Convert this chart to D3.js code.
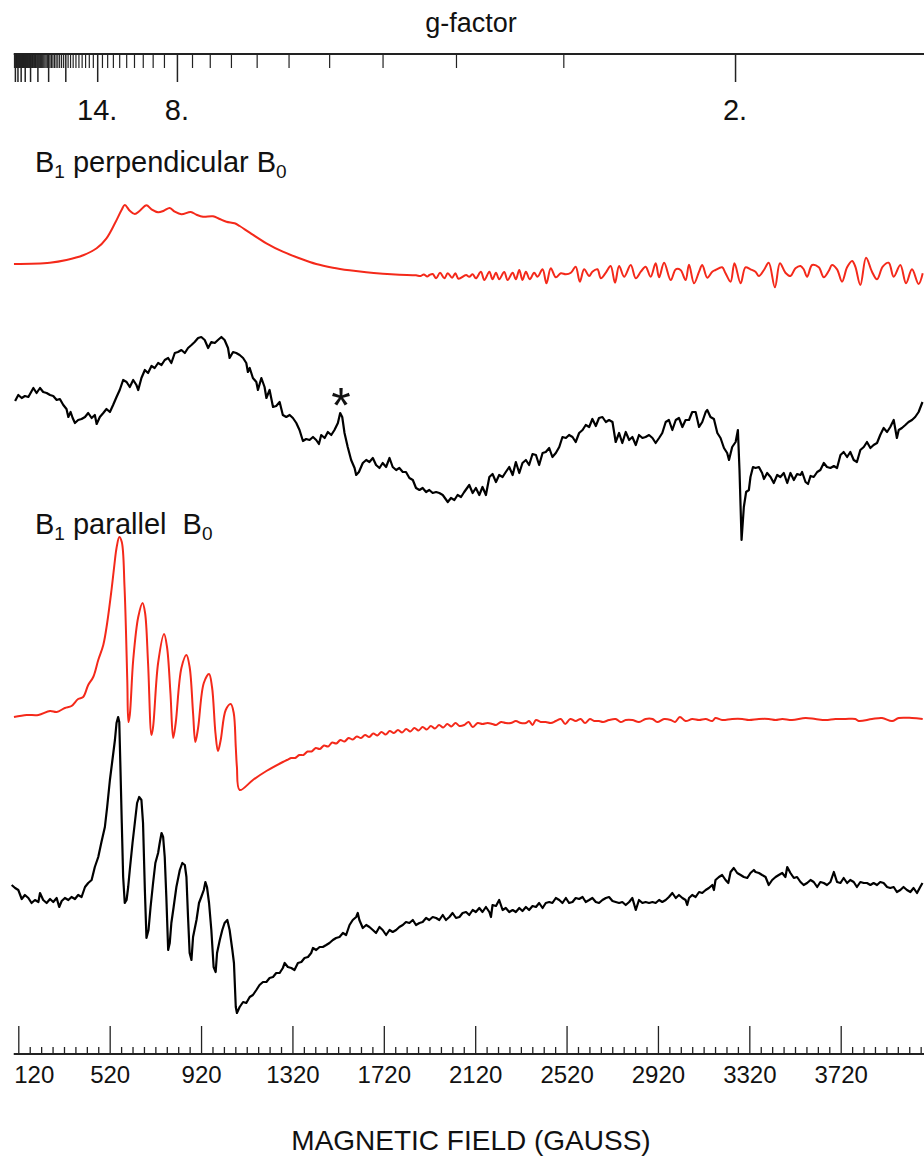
<!DOCTYPE html>
<html><head><meta charset="utf-8">
<script src="https://cdn.jsdelivr.net/npm/d3@7"></script>
<style>
body{margin:0;background:#fff;}
svg{display:block;font-family:"Liberation Sans",Arial,Helvetica,sans-serif;}
</style></head><body>
<svg id="chart" width="924" height="1159"></svg>
<script>
// ---- DATA (field in gauss, intensity in arbitrary units relative to each trace baseline) ----
const perpSim = [[101,0],[258,1.3],[331,4],[404,8.7],[463,15.7],[506,25.7],[543,40.7],[572,54],[586,59],[608,53.3],[630,50],[652,53.3],[681,58.7],[703,54.7],[732,51.7],[757,53.3],[783,56],[805,52.3],[834,49.7],[875,52],[900,49.3],[929,47.3],[972,47.7],[1001,45],[1031,42.3],[1067,40.7],[1089,38],[1133,31.3],[1206,20.7],[1278,12.3],[1351,5.7],[1424,0],[1497,-3.7],[1570,-6.3],[1643,-8.3],[1716,-9.7],[1788,-10.7],[1861,-11.3],[1880,-12],[1895,-10.5],[1910,-12.5],[1920,-11],[1934,-10],[1949,-14.3],[1966,-8.7],[1985,-14.3],[2000,-9.3],[2019,-13.7],[2033,-9.3],[2047,-14.7],
[2080,-11],[2094,-12.7],[2109,-10.3],[2123,-14.3],[2145,-7.7],[2160,-16],[2182,-7.7],[2196,-15.3],[2211,-8.7],[2225,-15.3],[2247,-8],[2262,-16],[2284,-8.7],[2298,-15.3],[2313,-6],[2327,-16],[2342,-7.7],[2359,-15.3],[2378,-8.7],[2393,-12.7],[2415,-5.3],[2432,-19.3],[2451,-4.3],[2473,-13.3],[2495,-9.3],[2517,-10.3],[2539,-8.7],[2560,-2.7],[2578,-17.7],[2597,-5.3],[2619,-12],[2633,-7.7],[2655,-5.3],[2670,-14.3],[2692,-8.7],[2713,-2],[2732,-18.7],[2750,-2],[2772,-12.7],[2801,-1],[2823,-14.3],[2845,-7.7],[2866,-2.7],[2888,-12.7],[2910,0.7],[2925,-13.3],[2947,1.3],[2976,-16],[2998,-5.3],[3019,-6],[3041,-16],[3056,-0.7],[3078,-19.3],[3100,-7.7],[3114,-1],[3136,-13.7],[3158,-7.7],[3172,-6],[3201,-3.3],[3216,-9.3],[3238,-17.7],[3255,0.7],[3282,-19.3],[3303,-3.3],[3325,-5.3],[3347,-7.7],[3362,-12],[3384,-6],[3405,1.3],[3432,-23.3],[3454,0.7],[3478,-8.7],[3500,-12],[3522,-4.3],[3544,-2],[3558,-5.3],[3573,-12.7],[3595,-1],[3624,-3.3],[3646,-13.3],[3668,-6.7],[3682,-1],[3704,-5.3],[3726,-17.7],[3748,-3.3],[3770,3],[3784,-2.7],[3806,-21],[3831,6.3],[3857,-7.7],[3879,-15.3],[3904,-2.7],[3930,1.3],[3952,-12.7],[3981,-1],[4006,-19.3],[4032,-5.3],[4061,-20],[4079,-9.3]];

const perpExp = [[106,-1],[120,5],[135,2],[149,4],[164,3],[186,12],[200,7],[215,12],[229,8],[244,7],[259,5],[273,4],[288,0],[302,1],[317,-5],[331,-9],[339,-17],[349,-12],[358,-18],[368,-23],[382,-20],[397,-19],[412,-17],[426,-13],[441,-18],[455,-15],[463,-24],[477,-17],[492,-13],[506,-9],[521,-12],[535,-5],[550,3],[564,10],[579,20],[594,18],[608,13],[623,20],[637,15],[645,10],[659,22],[674,30],[688,27],[703,34],[717,32],[732,37],[747,35],[761,40],[776,42],[790,37],[805,47],[819,48],[834,50],[849,47],[863,52],[878,55],[892,58],[907,62],[921,63],[936,60],[951,52],[965,58],[980,57],[994,60],[1009,63],[1023,60],[1038,52],[1045,42],[1060,48],[1074,47],[1089,45],[1104,42],[1118,37],[1125,28],[1133,32],[1147,22],[1162,18],[1169,10],[1184,22],[1198,13],[1206,2],[1220,10],[1235,-7],[1249,-6],[1264,-2],[1278,-15],[1293,-17],[1308,-15],[1322,-18],[1337,-23],[1351,-30],[1366,-41],[1380,-39],[1395,-40],[1410,-37],[1424,-40],[1436,-44],[1446,-35],[1461,-38],[1475,-32],[1490,-35],[1504,-30],[1519,-23],[1529,-13],[1538,-17],[1548,-33],[1562,-47],[1577,-60],[1592,-68],[1599,-75],[1611,-72],[1628,-63],[1643,-60],[1657,-62],[1672,-58],[1686,-65],[1701,-68],[1715,-63],[1730,-67],[1745,-58],[1759,-67],[1774,-70],[1788,-68],[1803,-72],[1817,-72],[1832,-78],[1847,-80],[1861,-88],[1876,-90],[1890,-88],[1905,-92],[1919,-90],[1934,-93],[1949,-92],[1963,-93],[1978,-95],[2000,-102],[2014,-98],[2029,-100],[2043,-95],[2058,-97],[2072,-92],
[2094,-85],[2109,-93],[2123,-88],[2138,-95],[2152,-87],[2167,-95],[2182,-77],[2196,-74],[2211,-82],[2225,-75],[2240,-77],[2254,-72],[2269,-67],[2284,-75],[2298,-62],[2313,-73],[2327,-63],[2342,-60],[2356,-65],[2371,-54],[2386,-55],[2400,-65],[2415,-53],[2429,-52],[2444,-48],[2458,-57],[2473,-53],[2488,-47],[2502,-37],[2517,-38],[2531,-35],[2546,-37],[2560,-42],[2575,-33],[2590,-30],[2604,-25],[2619,-27],[2633,-19],[2648,-26],[2662,-18],[2677,-17],[2692,-22],[2706,-20],[2721,-22],[2735,-42],[2750,-33],[2764,-43],[2779,-32],[2794,-40],[2808,-37],[2823,-45],[2837,-35],[2852,-38],[2866,-37],[2881,-35],[2896,-38],[2910,-43],[2925,-38],[2939,-33],[2954,-22],[2968,-20],[2983,-30],[2998,-20],[3012,-18],[3027,-27],[3041,-20],[3056,-20],[3070,-12],[3085,-12],[3100,-27],[3114,-22],[3129,-12],[3136,-10],[3150,-17],[3165,-19],[3180,-33],[3194,-38],[3209,-48],[3223,-53],[3231,-60],[3245,-47],[3260,-42],[3270,-30],[3277,-70],[3286,-140],[3296,-107],[3306,-92],[3318,-90],[3325,-77],[3336,-67],[3347,-68],[3362,-67],[3376,-73],[3384,-79],[3398,-73],[3413,-77],[3427,-83],[3442,-75],[3456,-77],[3471,-73],[3486,-83],[3500,-73],[3515,-80],[3529,-74],[3544,-75],[3551,-72],[3566,-82],[3577,-84],[3588,-76],[3602,-77],[3617,-72],[3631,-70],[3646,-63],[3660,-67],[3675,-68],[3690,-66],[3704,-68],[3719,-55],[3733,-52],[3748,-57],[3762,-52],[3777,-60],[3791,-62],[3806,-50],[3821,-47],[3835,-42],[3850,-48],[3864,-45],[3879,-43],[3893,-35],[3908,-28],[3923,-32],[3937,-27],[3952,-20],[3966,-38],[3974,-30],[3988,-28],[4003,-25],[4017,-22],[4032,-20],[4046,-17],[4061,-12],[4078,-2]];

const parSim = [[101,-1],[157,1],[208,1],[259,5],[288,4],[324,8],[353,10],[382,17],[404,19],[426,31],[448,39],[470,56],[492,71],[509,93],[528,126],[543,156],[550,168],[562,179],[573,174],[585,129],[597,36],[602,-6],[608,1],[623,56],[645,99],[664,113],[675,103],[688,53],[703,-19],[710,-11],[732,53],[758,82],[771,69],[786,23],[798,-22],[809,-7],[834,48],[856,61],[870,49],[885,3],[895,-26],[907,-12],[932,33],[955,42],[968,29],[983,-17],[994,-35],[1006,-24],[1028,6],[1050,12],[1063,3],[1072,-31],[1077,-51],[1089,-74],[1147,-64],[1206,-55],[1278,-46],[1296,-44],[1314,-42],[1332,-42],[1350,-39],[1368,-39],[1386,-35.5],[1404,-35.5],[1422,-32],[1440,-33],[1458,-29.5],[1476,-30.5],[1494,-26.5],[1512,-27.5],[1530,-24],[1548,-25.5],[1566,-22],[1584,-23.5],[1602,-20.5],[1620,-22],[1638,-19],[1656,-21],[1674,-17.5],[1692,-19.5],[1710,-16],[1728,-18.5],[1746,-15],[1764,-17],[1782,-14],[1800,-16.5],[1818,-13],[1836,-15.5],[1854,-12],[1872,-14.5],[1890,-11],[1908,-13.5],[1926,-10],[1944,-12.5],[1962,-9],[1980,-11.5],[1998,-8],[2016,-10.5],[2034,-7],
[2051,-10],[2072,-9],[2091,-6],[2109,-11],[2131,-7],[2152,-8],[2174,-7],[2196,-8],[2211,-9],[2233,-6],[2254,-7],[2276,-7],[2298,-5],[2320,-7],[2342,-7],[2356,-5],[2371,-9],[2386,-4],[2407,-6],[2429,-6],[2451,-7],[2473,-5],[2495,-3],[2514,-8],[2536,-3],[2560,-5],[2582,-3],[2601,-7],[2622,-3],[2641,-5],[2662,-5],[2680,-6],[2706,-4],[2735,-3],[2757,-6],[2779,-4],[2808,-4],[2837,-6],[2866,-3],[2896,-3],[2917,-6],[2947,-3],[2976,-4],[2995,-6],[3016,-1],[3041,-5],[3070,-3],[3100,-4],[3129,-3],[3158,-5],[3172,-2],[3201,-4],[3245,-3],[3289,-3],[3318,-4],[3362,-3],[3405,-3],[3435,-4],[3464,-3],[3507,-4],[3566,-2],[3609,-3],[3653,-4],[3697,-3],[3741,-3],[3784,-3],[3799,-5],[3857,-3],[3901,-2],[3945,-5],[3974,-2],[4032,-2],[4079,-3]];

const parExp = [[91,0],[106,-3],[120,-5],[135,-14],[149,-10],[164,-13],[178,-18],[193,-15],[208,-17],[215,-8],[229,-15],[244,-18],[259,-14],[273,-17],[288,-13],[299,-22],[310,-16],[324,-13],[339,-15],[353,-12],[368,-14],[382,-10],[397,-12],[412,-2],[426,2],[441,5],[455,18],[470,28],[484,43],[499,58],[509,78],[521,105],[532,125],[543,145],[550,162],[557,168],[562,163],[567,118],[573,62],[579,8],[586,-18],[594,-15],[601,-2],[608,15],[620,42],[630,62],[640,82],[649,88],[659,85],[666,62],[674,-5],[681,-53],[690,-45],[699,-22],[710,2],[720,22],[732,32],[739,42],[747,52],[754,48],[761,28],[768,-12],[776,-65],[783,-58],[790,-38],[800,-22],[812,-2],[827,15],[838,22],[849,20],[856,8],[863,-32],[870,-68],[878,-75],[885,-52],[900,-35],[911,-18],[921,-12],[932,-5],[939,3],[946,-2],[955,-18],[965,-45],[975,-82],[984,-87],[990,-68],[1002,-55],[1013,-45],[1023,-38],[1035,-35],[1045,-45],[1057,-65],[1064,-78],[1072,-122],[1077,-128],[1089,-122],[1104,-117],[1118,-118],[1133,-112],[1147,-110],[1162,-105],[1176,-100],[1191,-97],[1206,-97],[1220,-93],[1235,-92],[1249,-88],[1264,-88],[1278,-83],[1286,-78],[1300,-82],[1315,-83],[1329,-85],[1344,-78],[1359,-77],[1373,-73],[1388,-72],[1402,-68],[1410,-63],[1424,-65],[1439,-62],[1453,-62],[1468,-60],[1482,-58],[1497,-55],[1511,-53],[1526,-52],[1541,-48],[1555,-50],[1570,-40],[1584,-35],[1599,-32],[1606,-28],[1613,-35],[1628,-43],[1643,-40],[1657,-42],[1672,-45],[1686,-48],[1701,-42],[1715,-45],[1730,-50],[1745,-45],[1759,-47],[1774,-45],[1788,-42],[1803,-40],[1817,-37],[1832,-38],[1847,-35],[1861,-40],[1876,-38],[1890,-37],[1905,-33],[1919,-35],[1934,-32],[1949,-33],[1963,-35],[1978,-30],[1992,-35],[2007,-32],[2021,-28],[2036,-33],
[2051,-32],[2065,-28],[2080,-27],[2094,-30],[2109,-25],[2123,-27],[2138,-23],[2152,-27],[2167,-22],[2182,-27],[2189,-32],[2196,-20],[2211,-21],[2225,-15],[2240,-25],[2254,-23],[2269,-27],[2284,-25],[2298,-27],[2313,-23],[2327,-26],[2342,-22],[2356,-25],[2371,-21],[2386,-22],[2400,-18],[2415,-23],[2429,-18],[2444,-17],[2458,-18],[2473,-13],[2488,-15],[2502,-18],[2517,-13],[2531,-18],[2546,-17],[2560,-13],[2575,-14],[2590,-12],[2604,-17],[2619,-15],[2633,-13],[2648,-17],[2662,-18],[2677,-15],[2692,-13],[2706,-12],[2721,-16],[2735,-17],[2750,-18],[2764,-17],[2779,-20],[2794,-17],[2808,-13],[2823,-25],[2837,-15],[2852,-18],[2866,-17],[2881,-18],[2896,-17],[2910,-18],[2925,-15],[2939,-17],[2954,-15],[2968,-12],[2983,-8],[2998,-13],[3012,-10],[3027,-13],[3041,-15],[3048,-20],[3056,-13],[3070,-10],[3085,-12],[3100,-7],[3114,-8],[3129,-5],[3143,-3],[3158,0],[3165,-5],[3172,5],[3187,8],[3201,10],[3216,5],[3228,2],[3238,13],[3252,17],[3267,12],[3282,10],[3296,8],[3311,7],[3325,12],[3340,15],[3347,13],[3362,12],[3376,10],[3391,8],[3405,0],[3420,5],[3435,8],[3449,10],[3464,12],[3478,8],[3486,18],[3500,12],[3515,7],[3529,8],[3544,3],[3558,0],[3573,2],[3588,5],[3602,3],[3617,-2],[3631,3],[3646,2],[3660,0],[3675,3],[3690,13],[3704,3],[3719,2],[3733,7],[3748,2],[3762,5],[3777,3],[3791,-2],[3806,3],[3821,2],[3835,2],[3850,0],[3864,2],[3879,0],[3893,3],[3908,2],[3923,-2],[3937,-3],[3952,-2],[3966,-7],[3981,-5],[3995,-2],[4010,-5],[4025,-7],[4039,-3],[4054,-8],[4068,-2],[4078,2]];

const traceOffsets = [776, 640, 324, 155];          // stacking offsets, a.u.
const fieldTickLabels = [120, 520, 920, 1320, 1720, 2120, 2520, 2920, 3320, 3720];
const fieldSweep = [100, 4100];
const gTickLabels = [14, 8, 2];
const hNuOverBeta = 6515;                            // g = hNuOverBeta / B (gauss)
const asteriskField = 1533;

// ---- DRAWING ----
const svg = d3.select("#chart");
const W = 924, H = 1159;
svg.append("rect").attr("width", W).attr("height", H).attr("fill", "#fff");

const x = d3.scaleLinear().domain([120, 3720]).range([18.3, 840.7]);
const y = d3.scaleLinear().domain([0, 1000]).range([1040, 40]);

const RED = "#f4291a";
const traces = [
  {data: perpSim, off: traceOffsets[0], color: RED, curve: d3.curveCatmullRom.alpha(0.5), w: 2},
  {data: perpExp, off: traceOffsets[1], color: "#000", curve: d3.curveLinear, w: 2.2},
  {data: parSim, off: traceOffsets[2], color: RED, curve: d3.curveCatmullRom.alpha(0.5), w: 2},
  {data: parExp, off: traceOffsets[3], color: "#000", curve: d3.curveLinear, w: 2.2}
];
traces.forEach(t => {
  const line = d3.line().x(d => x(d[0])).y(d => y(t.off + d[1])).curve(t.curve);
  svg.append("path").datum(t.data).attr("d", line)
    .attr("fill", "none").attr("stroke", t.color).attr("stroke-width", t.w)
    .attr("stroke-linejoin", "round");
});

// bottom field axis
const axisY = 1054;
svg.append("line").attr("x1", x(fieldSweep[0])).attr("x2", x(fieldSweep[1]))
  .attr("y1", axisY).attr("y2", axisY).attr("stroke", "#222").attr("stroke-width", 2);
const minorField = d3.range(120, 4100, 50).filter(v => (v - 120) % 400 !== 0);
svg.append("g").attr("transform", `translate(0,${axisY})`)
  .call(d3.axisBottom(x).tickValues(minorField).tickSizeInner(-7).tickSizeOuter(0).tickFormat(""))
  .call(g => g.select(".domain").remove())
  .call(g => g.selectAll("line").attr("stroke", "#222").attr("stroke-width", 1.3));
const bottomAx = svg.append("g").attr("transform", `translate(0,${axisY})`)
  .call(d3.axisBottom(x).tickValues(fieldTickLabels).tickSizeInner(-28).tickSizeOuter(0).tickPadding(12).tickFormat(d3.format("d")))
  .call(g => g.select(".domain").remove())
  .call(g => g.selectAll("line").attr("stroke", "#222").attr("stroke-width", 1.3))
  .call(g => g.selectAll("text").attr("font-size", 24).attr("fill", "#111")
      .attr("font-family", "Liberation Sans, Arial, sans-serif"));
bottomAx.selectAll(".tick").filter(d => d === fieldTickLabels[0]).select("text")
  .attr("text-anchor", "start").attr("x", x(fieldSweep[0]) - x(fieldTickLabels[0]));

svg.append("text").attr("x", 471).attr("y", 1150).attr("text-anchor", "middle")
  .attr("font-size", 28).attr("fill", "#111").text("MAGNETIC FIELD (GAUSS)");

// top g-factor axis
const topY = 54;
svg.append("line").attr("x1", x(fieldSweep[0])).attr("x2", W)
  .attr("y1", topY).attr("y2", topY).attr("stroke", "#222").attr("stroke-width", 2);
const gAll = d3.range(0, 105).map(n => ({g: 2 + 0.6 * n, major: n % 10 === 0}));
const gMinorB = gAll.filter(d => !d.major).map(d => hNuOverBeta / d.g).filter(b => b >= fieldSweep[0]);
const gMajorB = gAll.filter(d => d.major).map(d => hNuOverBeta / d.g).filter(b => b >= fieldSweep[0]);
svg.append("g").attr("transform", `translate(0,${topY})`)
  .call(d3.axisBottom(x).tickValues(gMinorB).tickSizeInner(14).tickSizeOuter(0).tickFormat(""))
  .call(g => g.select(".domain").remove())
  .call(g => g.selectAll("line").attr("stroke", "#222").attr("stroke-width", 1.2));
svg.append("g").attr("transform", `translate(0,${topY})`)
  .call(d3.axisBottom(x).tickValues(gMajorB).tickSizeInner(28).tickSizeOuter(0).tickFormat(""))
  .call(g => g.select(".domain").remove())
  .call(g => g.selectAll("line").attr("stroke", "#222").attr("stroke-width", 1.5));
svg.append("g").selectAll("text").data(gTickLabels).join("text")
  .attr("x", d => x(hNuOverBeta / d)).attr("y", 120).attr("text-anchor", "middle")
  .attr("font-size", 29).attr("fill", "#111").text(d => d + ".");
svg.append("text").attr("x", 471).attr("y", 32).attr("text-anchor", "middle")
  .attr("font-size", 27).attr("fill", "#111").text("g-factor");

// trace labels
function label(xp, yp, parts) {
  const t = svg.append("text").attr("x", xp).attr("y", yp).attr("font-size", 29)
    .attr("fill", "#111").style("white-space", "pre");
  parts.forEach(p => {
    const s = t.append("tspan").text(p.s);
    if (p.sub) s.attr("font-size", 19).attr("dy", 6);
    if (p.up) s.attr("dy", -6);
  });
}
label(35, 172, [{s: "B"}, {s: "1", sub: true}, {s: " perpendicular B", up: true}, {s: "0", sub: true}]);
label(35, 534, [{s: "B"}, {s: "1", sub: true}, {s: " parallel  B", up: true}, {s: "0", sub: true}]);

// asterisk marking impurity line
svg.append("text").attr("x", x(asteriskField)).attr("y", 423).attr("text-anchor", "middle")
  .attr("font-size", 50).attr("fill", "#111").text("*");
</script>
</body></html>
